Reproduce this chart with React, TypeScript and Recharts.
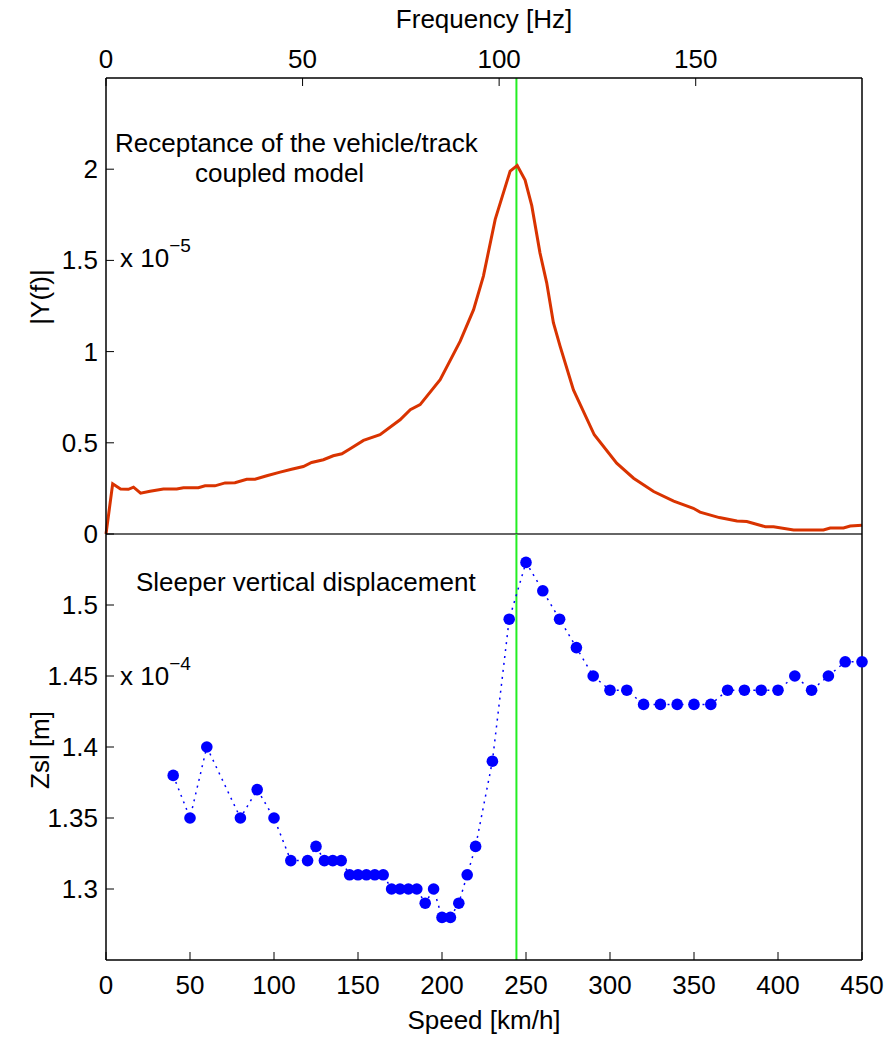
import React from "react";
import { LineChart, Line, XAxis, YAxis, ReferenceLine } from "recharts";

// top panel: receptance vs frequency
const freqHz = [
  0, 1.7, 3.7, 5.7, 7, 8.8, 11.2, 14.6, 18, 19.7, 23.5, 25.2, 27.7, 30.3, 32.8,
  35.8, 37.9, 40.9, 44.3, 47.2, 50.2, 52.3, 55.3, 57.8, 60, 62, 65.5, 69.7, 74.8,
  77.4, 79.9, 85, 90.1, 93.5, 96, 99, 102.8, 104.6, 106.6, 108.3, 110.4, 112.1,
  113.8, 115.5, 118.9, 124.2, 129.9, 134.2, 139.3, 144.4, 149.4, 151.1, 156,
  160.5, 163, 167.7, 169.8, 174.9, 182.5, 184.2, 187.6, 189.3, 192.3,
];
const receptance = [
  0, 0.275, 0.247, 0.245, 0.257, 0.224, 0.234, 0.247, 0.247, 0.254, 0.254,
  0.264, 0.264, 0.28, 0.281, 0.3, 0.3, 0.319, 0.339, 0.355, 0.37, 0.392, 0.407,
  0.429, 0.44, 0.466, 0.513, 0.544, 0.626, 0.681, 0.709, 0.846, 1.057, 1.23,
  1.414, 1.725, 1.99, 2.02, 1.94, 1.8, 1.54, 1.377, 1.158, 1.03, 0.79, 0.544,
  0.388, 0.306, 0.233, 0.18, 0.141, 0.12, 0.09, 0.071, 0.068, 0.04, 0.04, 0.022,
  0.022, 0.033, 0.033, 0.044, 0.048,
];
const freqTicks = [0, 50, 100, 150];
const recTicks = [0, 0.5, 1, 1.5, 2];

// bottom panel: sleeper displacement vs speed
const speedKmh = [
  40, 50, 60, 80, 90, 100, 110, 120, 125, 130, 135, 140, 145, 150, 155, 160,
  165, 170, 175, 180, 185, 190, 195, 200, 205, 210, 215, 220, 230, 240, 250,
  260, 270, 280, 290, 300, 310, 320, 330, 340, 350, 360, 370, 380, 390, 400,
  410, 420, 430, 440, 450,
];
const zsl = [
  1.38, 1.35, 1.4, 1.35, 1.37, 1.35, 1.32, 1.32, 1.33, 1.32, 1.32, 1.32, 1.31,
  1.31, 1.31, 1.31, 1.31, 1.3, 1.3, 1.3, 1.3, 1.29, 1.3, 1.28, 1.28, 1.29, 1.31,
  1.33, 1.39, 1.49, 1.53, 1.51, 1.49, 1.47, 1.45, 1.44, 1.44, 1.43, 1.43, 1.43,
  1.43, 1.43, 1.44, 1.44, 1.44, 1.44, 1.45, 1.44, 1.45, 1.46, 1.46,
];
const speedTicks = [0, 50, 100, 150, 200, 250, 300, 350, 400, 450];
const zslTicks = [1.3, 1.35, 1.4, 1.45, 1.5];

const freqMax = 192.3;
const speedMax = 450;
const resonanceSpeed = 244.3;

const topData = freqHz.map((f, i) => ({ f, y: receptance[i] }));
const bottomData = speedKmh.map((v, i) => ({ v, z: zsl[i] }));

const FONT = "'Liberation Sans', Arial, Helvetica, sans-serif";
const FS = 26;
const TICK = 8;

const TopTick = ({ x, y, payload }: any) => (
  <g>
    <line x1={x} x2={x} y1={y} y2={y + TICK} stroke="#000" />
    <text x={x} y={y - 19} textAnchor="middle" dominantBaseline="central" fontSize={FS} fontFamily={FONT} fill="#000">
      {payload.value}
    </text>
  </g>
);

const BottomTick = ({ x, y, payload }: any) => (
  <g>
    <line x1={x} x2={x} y1={y} y2={y - TICK} stroke="#000" />
    <text x={x} y={y + 25} textAnchor="middle" dominantBaseline="central" fontSize={FS} fontFamily={FONT} fill="#000">
      {payload.value}
    </text>
  </g>
);

const LeftTick = ({ x, y, payload }: any) => (
  <g>
    <line x1={x} x2={x + TICK} y1={y} y2={y} stroke="#000" />
    <text x={x - 8} y={y} textAnchor="end" dominantBaseline="central" fontSize={FS} fontFamily={FONT} fill="#000">
      {payload.value}
    </text>
  </g>
);

const RightMark = ({ x, y }: any) => (
  <line x1={x} x2={x - TICK} y1={y} y2={y} stroke="#000" />
);

const NoTick = () => <g />;

const axisCommon = {
  tickSize: 0,
  tickMargin: 0,
  tickLine: false,
  interval: 0 as const,
};

export default function App() {
  return (
    <div style={{ position: "relative", width: 887, height: 1038, background: "#fff", overflow: "hidden" }}>
      <style>{`body{margin:0}`}</style>

      <div style={{ position: "absolute", left: 0, top: 0 }}>
        <LineChart width={887} height={560} data={topData} margin={{ top: 77, right: 24, bottom: 25, left: 105 }}>
          <XAxis
            {...axisCommon}
            dataKey="f"
            type="number"
            orientation="top"
            height={1}
            domain={[0, freqMax]}
            ticks={freqTicks}
            tick={TopTick}
            axisLine={{ stroke: "#000", strokeWidth: 1.5 }}
          />
          <XAxis
            {...axisCommon}
            xAxisId="b"
            dataKey="f"
            type="number"
            orientation="bottom"
            height={1}
            domain={[0, freqMax]}
            ticks={freqTicks}
            tick={NoTick}
            axisLine={{ stroke: "#333", strokeWidth: 1.5 }}
          />
          <YAxis
            {...axisCommon}
            type="number"
            width={1}
            domain={[0, 2.5]}
            ticks={recTicks}
            tick={LeftTick}
            axisLine={{ stroke: "#000", strokeWidth: 1.5 }}
          />
          <YAxis
            {...axisCommon}
            yAxisId="r"
            orientation="right"
            type="number"
            width={1}
            domain={[0, 2.5]}
            ticks={recTicks}
            tick={RightMark}
            axisLine={{ stroke: "#000", strokeWidth: 1.5 }}
          />
          <ReferenceLine x={(resonanceSpeed * freqMax) / speedMax} stroke="#22ee22" strokeWidth={2} />
          <Line
            dataKey="y"
            type="linear"
            stroke="#d93300"
            strokeWidth={3}
            dot={false}
            isAnimationActive={false}
          />
        </LineChart>
      </div>

      <div style={{ position: "absolute", left: 0, top: 500 }}>
        <LineChart width={887} height={500} data={bottomData} margin={{ top: 34, right: 24, bottom: 39, left: 105 }}>
          <XAxis
            {...axisCommon}
            dataKey="v"
            type="number"
            orientation="bottom"
            height={1}
            domain={[0, speedMax]}
            ticks={speedTicks}
            tick={BottomTick}
            axisLine={{ stroke: "#000", strokeWidth: 1.5 }}
          />
          <YAxis
            {...axisCommon}
            type="number"
            width={1}
            domain={[1.25, 1.55]}
            ticks={zslTicks}
            tick={LeftTick}
            axisLine={{ stroke: "#000", strokeWidth: 1.5 }}
          />
          <YAxis
            {...axisCommon}
            yAxisId="r"
            orientation="right"
            type="number"
            width={1}
            domain={[1.25, 1.55]}
            ticks={zslTicks}
            tick={RightMark}
            axisLine={{ stroke: "#000", strokeWidth: 1.5 }}
          />
          <ReferenceLine x={resonanceSpeed} stroke="#22ee22" strokeWidth={2} />
          <Line
            dataKey="z"
            type="linear"
            stroke="#0000ff"
            strokeWidth={1.5}
            strokeDasharray="2 5"
            dot={{ r: 5.8, fill: "#0000ff", stroke: "none" }}
            isAnimationActive={false}
          />
        </LineChart>
      </div>

      <svg
        width={887}
        height={1038}
        style={{ position: "absolute", left: 0, top: 0, pointerEvents: "none" }}
        fontFamily={FONT}
        fontSize={FS}
        fill="#000"
      >
        <text x={484} y={19} textAnchor="middle" dominantBaseline="central">Frequency [Hz]</text>
        <text x={484} y={1020} textAnchor="middle" dominantBaseline="central">Speed [km/h]</text>
        <text x={40} y={297} textAnchor="middle" dominantBaseline="central" transform="rotate(-90 40 297)">|Y(f)|</text>
        <text x={40} y={750} textAnchor="middle" dominantBaseline="central" transform="rotate(-90 40 750)">Zsl [m]</text>
        <text x={115} y={143} dominantBaseline="central">Receptance of the vehicle/track</text>
        <text x={195} y={173} dominantBaseline="central">coupled model</text>
        <text x={136} y={582} dominantBaseline="central">Sleeper vertical displacement</text>
        <text x={120} y={267}>
          x 10<tspan dy={-15} fontSize={19}>−5</tspan>
        </text>
        <text x={120} y={685}>
          x 10<tspan dy={-15} fontSize={19}>−4</tspan>
        </text>
      </svg>
    </div>
  );
}
